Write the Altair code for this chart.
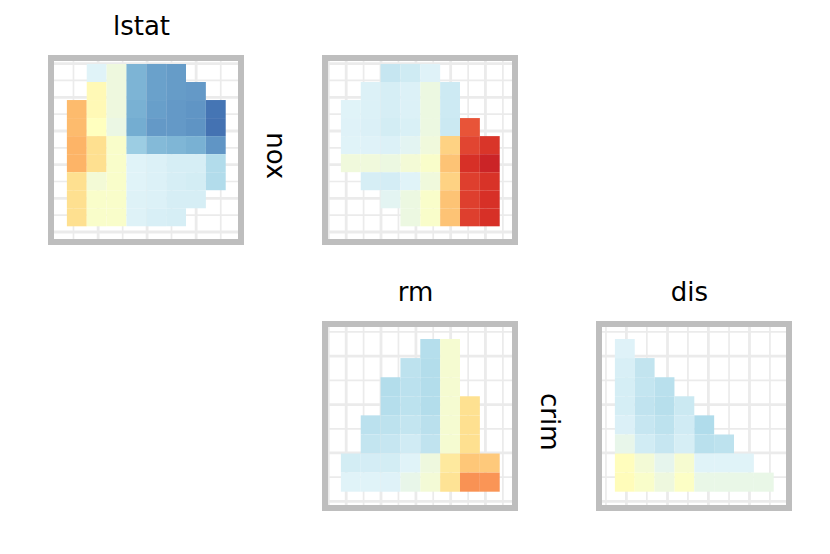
import altair as alt
import pandas as pd

# Tile values (0 = deep blue ... 0.5 = pale yellow ... 1 = deep red); None = no tile.
# Rows are listed from top to bottom, 8 columns each.
LSTAT_NOX = [
    [None, 0.40, 0.445, 0.216, 0.179, 0.17, None, None],
    [None, 0.52, 0.445, 0.216, 0.179, 0.17, 0.165, None],
    [0.674, 0.52, 0.445, 0.21, 0.175, 0.165, 0.157, 0.10],
    [0.674, 0.50, 0.435, 0.20, 0.165, 0.165, 0.155, 0.095],
    [0.688, 0.60, 0.48, 0.273, 0.229, 0.22, 0.21, 0.157],
    [0.688, 0.60, 0.48, 0.40, 0.392, 0.381, 0.381, 0.313],
    [0.60, 0.46, 0.48, 0.40, 0.392, 0.381, 0.375, 0.313],
    [0.60, 0.48, 0.48, 0.396, 0.392, 0.381, 0.381, None],
    [0.60, 0.48, 0.48, 0.396, 0.385, 0.381, None, None],
]
RM_NOX = [
    [None, None, 0.351, 0.368, 0.398, None, None, None],
    [None, 0.392, 0.381, 0.392, 0.44, 0.365, None, None],
    [0.40, 0.392, 0.381, 0.392, 0.44, 0.365, None, None],
    [0.398, 0.39, 0.375, 0.387, 0.44, 0.36, 0.841, None],
    [0.40, 0.398, 0.392, 0.41, 0.45, 0.628, 0.866, 0.892],
    [0.45, 0.45, 0.44, 0.46, 0.48, 0.658, 0.90, 0.925],
    [None, 0.381, 0.378, 0.40, 0.45, 0.628, 0.875, 0.895],
    [None, None, 0.41, 0.44, 0.48, 0.658, 0.875, 0.90],
    [None, None, None, 0.44, 0.48, 0.658, 0.875, 0.90],
]
RM_CRIM = [
    [None, None, None, None, 0.319, 0.468, None, None],
    [None, None, None, 0.334, 0.315, 0.468, None, None],
    [None, None, 0.315, 0.33, 0.315, 0.468, None, None],
    [None, None, 0.319, 0.333, 0.316, 0.468, 0.597, None],
    [None, 0.33, 0.334, 0.345, 0.328, 0.468, 0.60, None],
    [None, 0.345, 0.35, 0.37, 0.34, 0.468, 0.60, None],
    [0.375, 0.378, 0.375, 0.40, 0.445, 0.57, 0.65, 0.645],
    [0.40, 0.40, 0.398, 0.426, 0.46, 0.59, 0.743, 0.738],
]
DIS_CRIM = [
    [0.398, None, None, None, None, None, None, None],
    [0.385, 0.343, None, None, None, None, None, None],
    [0.38, 0.345, 0.326, None, None, None, None, None],
    [0.38, 0.34, 0.322, 0.36, None, None, None, None],
    [0.39, 0.35, 0.334, 0.37, 0.31, None, None, None],
    [0.425, 0.372, 0.35, 0.381, 0.326, 0.334, None, None],
    [0.505, 0.46, 0.42, 0.47, 0.40, 0.40, 0.40, None],
    [0.51, 0.48, 0.445, 0.49, 0.43, 0.43, 0.43, 0.43],
]

# Grid-line positions, in tile units
LSTAT_MAJOR = [1.575, 4.04, 6.51]
LSTAT_MINOR = [0.332, 2.81, 5.27, 7.75]
RM_MAJOR = [0.267, 2.02, 3.78, 5.53, 7.28]
RM_MINOR = [-0.61, 1.144, 2.90, 4.65, 6.41, 8.16]
DIS_MAJOR = [0.58, 2.65, 4.71, 6.78]
DIS_MINOR = [-0.45, 1.61, 3.68, 5.75, 7.81]
NOX_MAJOR = [-0.316, 1.551, 3.418, 5.284, 7.151, 9.018]
NOX_MINOR = [0.617, 2.484, 4.351, 6.218, 8.085]
CRIM_MAJOR = [7.10, 4.56, 2.03, -0.51]
CRIM_MINOR = [8.37, 5.83, 3.29, 0.76]

COLOR_STOPS = [0.0, 0.1, 0.2, 0.3, 0.4, 0.5, 0.6, 0.7, 0.8, 0.9, 1.0]
COLOR_RANGE = ["#313695", "#4575b4", "#74add1", "#abd9e9", "#e0f3f8", "#ffffbf",
               "#fee090", "#fdae61", "#f46d43", "#d73027", "#a50026"]

W, H = 190, 184
XDOM = [-0.8, 8.77]
YDOM9 = [-0.87, 9.33]
YDOM8 = [-0.854, 8.786]
FONT = "DejaVu Sans"
FSIZE = 26
GRID = "#ebebeb"
BORDER = "#bebebe"


def tiles(matrix):
    n = len(matrix)
    out = []
    for r, line in enumerate(matrix):
        for c, v in enumerate(line):
            if v is not None:
                out.append({"x0": c, "x1": c + 1, "y0": n - 1 - r, "y1": n - r, "v": v})
    return pd.DataFrame(out)


def panel(matrix, vmaj, vmin, hmaj, hmin, ydom, top=None, side=None):
    xs = alt.Scale(domain=XDOM, nice=False, zero=False)
    ys = alt.Scale(domain=ydom, nice=False, zero=False)
    cs = alt.Scale(domain=COLOR_STOPS, range=COLOR_RANGE, interpolate="rgb")

    layers = []
    for vals, sw in ((vmin, 1.7), (vmaj, 2.8)):
        layers.append(
            alt.Chart(pd.DataFrame({"g": vals})).mark_rule(color=GRID, strokeWidth=sw).encode(
                x=alt.X("g:Q", scale=xs, axis=None), y=alt.value(0), y2=alt.value(H)))
    for vals, sw in ((hmin, 1.7), (hmaj, 2.8)):
        layers.append(
            alt.Chart(pd.DataFrame({"g": vals})).mark_rule(color=GRID, strokeWidth=sw).encode(
                y=alt.Y("g:Q", scale=ys, axis=None), x=alt.value(0), x2=alt.value(W)))

    layers.append(
        alt.Chart(tiles(matrix)).mark_rect().encode(
            x=alt.X("x0:Q", scale=xs, axis=None), x2="x1:Q",
            y=alt.Y("y0:Q", scale=ys, axis=None), y2="y1:Q",
            color=alt.Color("v:Q", scale=cs, legend=None)))
    layers.append(
        alt.Chart(alt.Data(values=[{}])).mark_rect(filled=False, color=BORDER, strokeWidth=6).encode(
            x=alt.value(0), x2=alt.value(W), y=alt.value(0), y2=alt.value(H)))
    if side:
        layers.append(
            alt.Chart(alt.Data(values=[{"label": side}])).mark_text(
                angle=90, align="center", baseline="alphabetic", font=FONT,
                fontSize=FSIZE, color="black").encode(
                text="label:N", x=alt.value(W + 25.7), y=alt.value(H / 2 + 5.7)))

    ch = alt.layer(*layers).properties(width=W, height=H)
    if top:
        ch = ch.properties(title=alt.TitleParams(
            top, font=FONT, fontSize=FSIZE, fontWeight="normal", color="black",
            anchor="middle", frame="group", dx=-4.5, offset=-6.3, baseline="alphabetic"))
    return ch


def blank():
    return alt.Chart(alt.Data(values=[{}])).mark_point(opacity=0).encode(
        x=alt.value(0), y=alt.value(0)).properties(width=W, height=H)


pa = panel(LSTAT_NOX, LSTAT_MAJOR, LSTAT_MINOR, NOX_MAJOR, NOX_MINOR, YDOM9, top="lstat", side="nox")
pb = panel(RM_NOX, RM_MAJOR, RM_MINOR, NOX_MAJOR, NOX_MINOR, YDOM9)
pc = panel(RM_CRIM, RM_MAJOR, RM_MINOR, CRIM_MAJOR, CRIM_MINOR, YDOM8, top="rm", side="crim")
pd_ = panel(DIS_CRIM, DIS_MAJOR, DIS_MINOR, CRIM_MAJOR, CRIM_MINOR, YDOM8, top="dis")

chart = alt.concat(
    pa, pb, blank(), blank(), pc, pd_,
    columns=3, spacing={"row": 82, "column": 84}, bounds="flush",
    padding={"left": 40, "top": 6, "right": 5, "bottom": 5},
).configure_view(strokeWidth=0)

chart.save("out.html", embed_options={"renderer": "svg", "actions": False})
